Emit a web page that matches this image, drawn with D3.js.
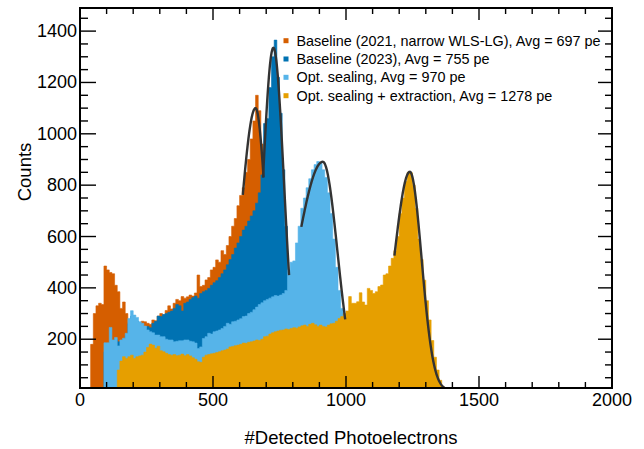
<!DOCTYPE html>
<html>
<head>
  <meta charset="utf-8">
  <title>Detected photoelectrons</title>
  <script src="https://cdn.jsdelivr.net/npm/d3@7"></script>
  <style>
    body { margin: 0; background: #fff; }
    text { font-family: "Liberation Sans", Arial, Helvetica, sans-serif; fill: #000; }
  </style>
</head>
<body>
  <script>
    // histogram data, 10 pe bins, counts per bin
    const binWidth = 10;

    const baseline2021Start = 40;
    const baseline2021 = [
      180, 300, 330, 340, 335, 485, 470, 460, 455, 410,
      385, 320, 345, 300, 265, 250, 245, 255, 262, 270,
      268, 262, 258, 275, 272, 290, 300, 295, 312, 330,
      318, 340, 355, 350, 366, 360, 365, 372, 368, 380,
      450, 405, 410, 431, 440, 470, 480, 509, 500, 545,
      530, 565, 600, 640, 670, 720, 760, 790, 850, 900,
      980, 1050, 1150, 1090, 960, 820, 560, 380, 240, 140,
      80, 40, 20
    ];

    const baseline2023Start = 90;
    const baseline2023 = [
      150, 175, 185, 190, 200, 190, 190, 200, 215, 260,
      290, 280, 270, 255, 248, 245, 250, 245, 262, 270,
      290, 288, 296, 300, 305, 310, 320, 335, 330, 310,
      340, 345, 355, 362, 368, 360, 378, 385, 390, 398,
      410, 420, 428, 440, 455, 470, 490, 510, 530, 555,
      575, 600, 625, 640, 660, 680, 700, 730, 770, 840,
      1040, 1060, 1180, 1300, 1365, 1220, 1080, 860, 640, 450
    ];

    const optSealingStart = 90;
    const optSealing = [
      186, 186, 246, 197, 207, 174, 197, 204, 223, 281,
      311, 294, 285, 268, 262, 251, 236, 229, 225, 216,
      216, 210, 210, 200, 197, 197, 190, 192, 194, 194,
      197, 197, 192, 190, 185, 164, 170, 203, 210, 223,
      220, 229, 232, 236, 242, 250, 262, 258, 268, 270,
      275, 280, 288, 290, 300, 305, 315, 325, 335, 342,
      350, 355, 360, 365, 370, 368, 372, 378, 390, 470,
      500, 505, 575, 640, 710, 750, 790, 825, 860, 880,
      892, 885, 860, 830, 770, 690, 590, 480, 390, 320
    ];

    const optExtractionStart = 140;
    const optExtraction = [
      80, 115, 132, 125, 132, 138, 125, 132, 135, 138,
      150, 168, 181, 177, 165, 173, 155, 151, 145, 140,
      138, 140, 136, 138, 142, 136, 140, 135, 128, 122,
      112, 110, 130, 138, 140, 143, 145, 148, 151, 155,
      158, 162, 170, 172, 175, 177, 180, 185, 184, 188,
      190, 193, 197, 195, 200, 210, 212, 220, 225, 229,
      232, 235, 236, 240, 238, 242, 245, 243, 248, 252,
      255, 250, 258, 262, 256, 250, 255, 250, 248, 255,
      260, 262, 270, 281, 288, 300, 310, 366, 340, 340,
      346, 381, 345, 333, 398, 390, 378, 385, 405, 411,
      450, 455, 485, 515, 545, 600, 690, 750, 815, 850,
      848, 800, 710, 590, 510, 430, 350, 275, 195, 130,
      80, 40, 15, 5
    ];

    const seriesNames = [
      "Baseline (2021, narrow WLS-LG), Avg = 697 pe",
      "Baseline (2023), Avg = 755 pe",
      "Opt. sealing, Avg = 970 pe",
      "Opt. sealing + extraction, Avg = 1278 pe"
    ];
    const seriesColors = ["#d55e00", "#0072b2", "#56b4e9", "#e69f00"];

    // peak fits (gaussian, separate widths each side)
    const fitMean = [660, 727, 913, 1240];
    const fitAmp = [1100, 1335, 891, 852];
    const fitSigmaL = [56, 40, 99, 59];
    const fitSigmaR = [40, 40, 55, 44];
    const fitFrom = [612, 688, 832, 1182];
    const fitTo = [690, 786, 997, 1376];

    const xTicks = [0, 500, 1000, 1500, 2000];
    const yTicks = [200, 400, 600, 800, 1000, 1200, 1400];

    const W = 644, H = 449;
    const fL = 80, fR = 612, fT = 8, fB = 388;

    const x = d3.scaleLinear().domain([0, 2000]).range([fL, fR]);
    const y = d3.scaleLinear().domain([10, 1490]).range([fB, fT]);

    const svg = d3.select("body").append("svg")
      .attr("width", W)
      .attr("height", H);

    svg.append("clipPath").attr("id", "frame")
      .append("rect")
      .attr("x", fL).attr("y", fT)
      .attr("width", fR - fL).attr("height", fB - fT);

    const plot = svg.append("g").attr("clip-path", "url(#frame)");

    const series = [
      [baseline2021Start, baseline2021],
      [baseline2023Start, baseline2023],
      [optSealingStart, optSealing],
      [optExtractionStart, optExtraction]
    ];

    const area = d3.area()
      .curve(d3.curveStepAfter)
      .x(d => x(d[0]))
      .y0(fB)
      .y1(d => y(d[1]));

    series.forEach(function (s, i) {
      const pts = s[1].map((v, j) => [s[0] + j * binWidth, v]);
      pts.push([s[0] + s[1].length * binWidth, s[1][s[1].length - 1]]);
      plot.append("path")
        .attr("d", area(pts))
        .attr("fill", seriesColors[i])
        .attr("stroke", seriesColors[i])
        .attr("stroke-width", 0.6);
    });

    // fit curves
    const line = d3.line().x(d => x(d[0])).y(d => y(d[1]));
    fitMean.forEach(function (m, i) {
      const pts = d3.range(fitFrom[i], fitTo[i] + 0.5, 1).map(function (v) {
        const s = v < m ? fitSigmaL[i] : fitSigmaR[i];
        return [v, fitAmp[i] * Math.exp(-0.5 * ((v - m) / s) ** 2)];
      });
      plot.append("path")
        .attr("d", line(pts))
        .attr("fill", "none")
        .attr("stroke", "#333")
        .attr("stroke-width", 2.4);
    });

    // ticks, ROOT style (inside the frame, on all four sides)
    const ax = svg.append("g").attr("stroke", "#000");
    d3.range(0, 2001, 100).forEach(function (v) {
      const major = v % 500 === 0;
      const len = major ? 12 : 6;
      ax.append("line").attr("x1", x(v)).attr("x2", x(v))
        .attr("y1", fB).attr("y2", fB - len).attr("stroke-width", 1.4);
      ax.append("line").attr("x1", x(v)).attr("x2", x(v))
        .attr("y1", fT).attr("y2", fT + len).attr("stroke-width", 1.4);
    });
    d3.range(50, 1491, 50).forEach(function (v) {
      const major = v % 200 === 0;
      ax.append("line").attr("y1", y(v)).attr("y2", y(v))
        .attr("x1", fL).attr("x2", fL + (major ? 16 : 8)).attr("stroke-width", 1.4);
      ax.append("line").attr("y1", y(v)).attr("y2", y(v))
        .attr("x1", fR).attr("x2", fR - (major ? 14 : 7)).attr("stroke-width", 1.4);
    });

    svg.append("rect")
      .attr("x", fL).attr("y", fT)
      .attr("width", fR - fL).attr("height", fB - fT)
      .attr("fill", "none").attr("stroke", "#000").attr("stroke-width", 2);

    // tick labels
    svg.selectAll(".xl").data(xTicks).enter().append("text")
      .attr("x", d => x(d)).attr("y", 406)
      .attr("text-anchor", "middle")
      .attr("font-size", 18)
      .text(d => d);

    svg.selectAll(".yl").data(yTicks).enter().append("text")
      .attr("x", 77).attr("y", d => y(d) + 6)
      .attr("text-anchor", "end")
      .attr("font-size", 18)
      .text(d => d);

    // axis titles
    svg.append("text")
      .attr("x", 351).attr("y", 444)
      .attr("text-anchor", "middle")
      .attr("font-size", 18.5)
      .text("#Detected Photoelectrons");

    svg.append("text")
      .attr("transform", "translate(31,172) rotate(-90)")
      .attr("text-anchor", "middle")
      .attr("font-size", 18.5)
      .text("Counts");

    // legend
    const legY = [40.7, 59, 77.3, 95.7];
    seriesNames.forEach(function (name, i) {
      svg.append("rect")
        .attr("x", 283.5).attr("y", legY[i] - 2.5)
        .attr("width", 5).attr("height", 5)
        .attr("fill", seriesColors[i]);
      svg.append("text")
        .attr("x", 296.5).attr("y", legY[i] + 5)
        .attr("font-size", 14.4)
        .text(name);
    });
  </script>
</body>
</html>
